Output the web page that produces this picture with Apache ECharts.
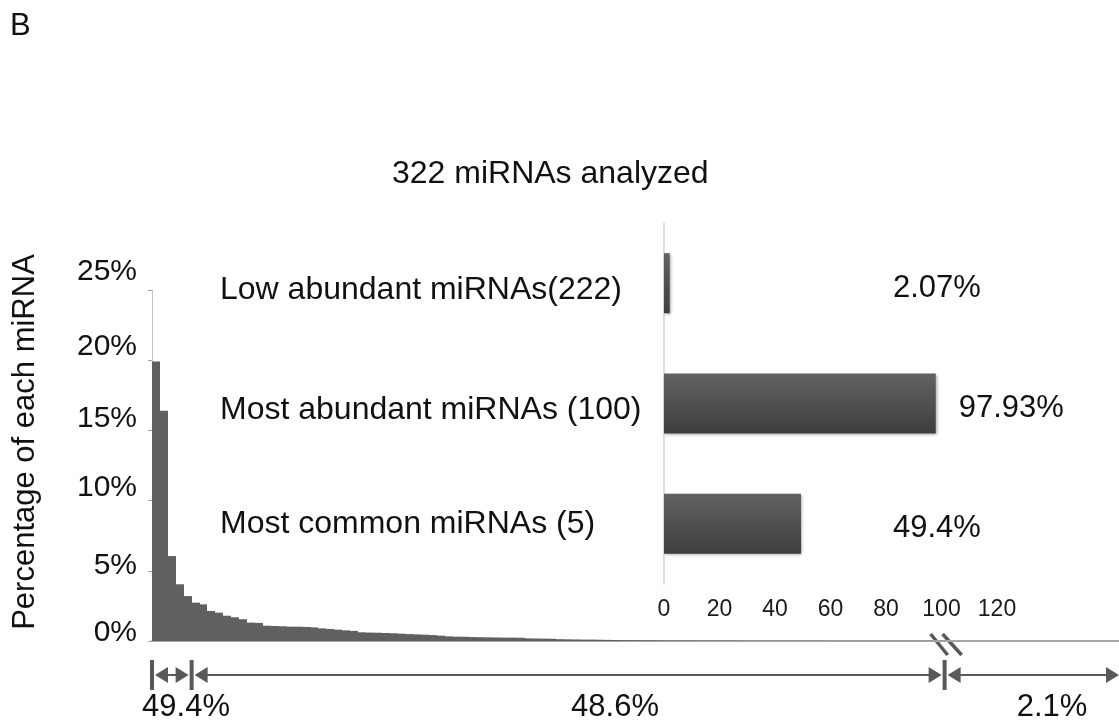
<!DOCTYPE html>
<html><head><meta charset="utf-8">
<script src="https://cdn.jsdelivr.net/npm/echarts@6/dist/echarts.min.js"></script>
<style>html,body{margin:0;padding:0;background:#fff}#c{width:1119px;height:721px}</style>
</head><body><div id="c"></div>
<script>
// ---------- data ----------
const panelLabel = 'B';
const titleText = '322 miRNAs analyzed';
const yAxisName = 'Percentage of each miRNA';
const yTicks = [0, 5, 10, 15, 20, 25];            // percent
// percentage of each of the 100 most abundant miRNAs (ranked)
const mirnaPercent = [
  19.9, 16.4, 6.05, 4.04, 3.2, 2.73, 2.61, 2.14, 2.02, 1.80,
  1.69, 1.55, 1.31, 1.29, 1.09, 1.07, 1.05, 1.02, 1.02, 1.00,
  0.97, 0.90, 0.86, 0.81, 0.76, 0.72, 0.62, 0.60, 0.59, 0.57,
  0.55, 0.52, 0.49, 0.47, 0.45, 0.42, 0.38, 0.33, 0.31, 0.30,
  0.28, 0.27, 0.26, 0.25, 0.24, 0.24, 0.23, 0.19, 0.18, 0.17,
  0.16, 0.13, 0.12, 0.11, 0.10, 0.10, 0.09, 0.08, 0.07, 0.06,
  0.06, 0.05, 0.05, 0.05, 0.04, 0.04, 0.04, 0.04, 0.03, 0.03,
  0.03, 0.03, 0.03, 0.03, 0.02, 0.02, 0.02, 0.02, 0.02, 0.02,
  0.02, 0.02, 0.02, 0.02, 0.02, 0.01, 0.01, 0.01, 0.01, 0.01,
  0.01, 0.01, 0.01, 0.01, 0.01, 0.01, 0.01, 0.01, 0.01, 0.01
];
const insetCategories = ['Low abundant miRNAs(222)', 'Most abundant miRNAs (100)', 'Most common miRNAs (5)'];
const insetValues = [2.07, 97.93, 49.4];
const insetTicks = [0, 20, 40, 60, 80, 100, 120];
const spanLabels = ['49.4%', '48.6%', '2.1%'];
const spanBounds = [0, 5, 100];   // rank boundaries of the groups

// ---------- layout ----------
const FONT = '"Liberation Sans", Arial, Helvetica, sans-serif';
const xMax = 122;                       // displayed rank range incl. compressed tail
const G1 = {left: 152, top: 290, right: 0, bottom: 80};
const G2 = {left: 664, top: 223, width: 333, height: 361};
const insetMax = insetTicks[insetTicks.length - 1];
const yShift = {0: 8, 5: 5, 10: 13, 15: 12, 20: 13, 25: 18};
const catShift = [7, 7, 0];

const chart = echarts.init(document.getElementById('c'), null, {renderer: 'canvas'});

const yRich = {};
yTicks.forEach(t => { yRich['t' + t] = {fontSize: 30, fontFamily: FONT, color: '#111', padding: [0, 0, 2 * yShift[t], 0]}; });
const catRich = {};
catShift.forEach((s, i) => { catRich['c' + i] = {fontSize: 32, fontFamily: FONT, color: '#111', padding: [2 * s, 0, 0, 0]}; });

const insetData = insetValues.map(v => {
  const end = v * G2.width / insetMax;
  const lx = Math.max(end + 23, 893 - G2.left);
  return {value: v, label: {position: [lx, 35]}};
});

chart.setOption({
  animation: false,
  backgroundColor: '#fff',
  title: {text: titleText, left: 387, top: 153,
    textStyle: {fontSize: 32, fontWeight: 'normal', fontFamily: FONT, color: '#111'}},
  grid: [
    {left: G1.left, top: G1.top, right: G1.right, bottom: G1.bottom, containLabel: false},
    {left: G2.left, top: G2.top, width: G2.width, height: G2.height, containLabel: false}
  ],
  xAxis: [
    {type: 'value', gridIndex: 0, min: 0, max: xMax,
      axisLine: {show: true, onZero: false, lineStyle: {color: '#a6a6a6', width: 2}},
      axisTick: {show: false}, axisLabel: {show: false}, splitLine: {show: false}},
    {type: 'value', gridIndex: 1, min: 0, max: insetMax, interval: 20,
      axisLine: {show: false}, axisTick: {show: false}, splitLine: {show: false},
      axisLabel: {fontSize: 23, fontFamily: FONT, color: '#1a1a1a', margin: 14}}
  ],
  yAxis: [
    {type: 'value', gridIndex: 0, min: 0, max: 25, interval: 5,
      axisLine: {show: true, lineStyle: {color: '#c4c4c4', width: 1}},
      axisTick: {show: true, length: 4, lineStyle: {color: '#a0a0a0'}},
      splitLine: {show: false},
      axisLabel: {margin: 15, formatter: v => '{t' + v + '|' + v + '%}', rich: yRich}},
    {type: 'category', gridIndex: 1, data: insetCategories, inverse: true,
      axisLine: {show: true, lineStyle: {color: '#c9d5ea', width: 1.5}},
      axisTick: {show: false},
      axisLabel: {align: 'left', margin: G2.left - 220,
        formatter: (v, i) => '{c' + i + '|' + v + '}', rich: catRich}}
  ],
  series: [
    {type: 'custom', xAxisIndex: 0, yAxisIndex: 0,
      data: mirnaPercent.map((v, i) => [i, v]),
      encode: {x: 0, y: 1},
      renderItem: (params, api) => {
        const i = api.value(0), v = api.value(1);
        const p0 = api.coord([i, v]), p1 = api.coord([i + 1, 0]);
        const x0 = Math.round(p0[0]), x1 = Math.round(p1[0]);
        return {type: 'rect',
          shape: {x: x0, y: p0[1], width: x1 - x0, height: p1[1] - p0[1]},
          style: {fill: '#606060', stroke: null}};
      }},
    {type: 'bar', xAxisIndex: 1, yAxisIndex: 1, data: insetData, barWidth: 60,
      itemStyle: {
        color: new echarts.graphic.LinearGradient(0, 0, 0, 1, [
          {offset: 0, color: '#626262'}, {offset: 1, color: '#3e3e3e'}]),
        shadowColor: 'rgba(0,0,0,0.35)', shadowBlur: 3, shadowOffsetX: 1, shadowOffsetY: 1},
      label: {show: true, formatter: p => p.value + '%', align: 'left', verticalAlign: 'middle',
        fontSize: 31, fontFamily: FONT, color: '#111'}}
  ]
});

// ---------- annotations (positions derived from the rank axis) ----------
const px = r => chart.convertToPixel({xAxisIndex: 0}, r);
const xs = spanBounds.map(px).concat([px(xMax)]);
const Y = 675, col = '#595959';
const g = [];
g.push({type: 'text', left: 10, top: 11, style: {text: panelLabel, fontSize: 31, fontFamily: FONT, fill: '#111'}});
g.push({type: 'text', x: 25, y: 442, rotation: Math.PI / 2,
  style: {text: yAxisName, fontSize: 31, fontFamily: FONT, fill: '#111', align: 'center', verticalAlign: 'middle'}});
function arrowSeg(a, b, startGap, endGap) {
  const s = a + startGap, e = b - endGap;
  g.push({type: 'line', shape: {x1: s + 10, y1: Y, x2: e - 10, y2: Y}, style: {stroke: col, lineWidth: 2}});
  g.push({type: 'polygon', shape: {points: [[s, Y], [s + 13, Y - 8], [s + 13, Y + 8]]}, style: {fill: col}});
  g.push({type: 'polygon', shape: {points: [[e, Y], [e - 13, Y - 8], [e - 13, Y + 8]]}, style: {fill: col}});
}
for (let k = 0; k < 3; k++) arrowSeg(xs[k], xs[k + 1], 3, k === 2 ? 0 : 3);
for (let k = 0; k < 3; k++) g.push({type: 'rect', shape: {x: xs[k] - 2, y: Y - 15, width: 4, height: 30}, style: {fill: col}});
const labelX = [186, 615, 1052];
spanLabels.forEach((t, k) => g.push({type: 'text', x: labelX[k], y: 707,
  style: {text: t, fontSize: 31, fontFamily: FONT, fill: '#111', align: 'center', verticalAlign: 'middle'}}));
// axis break marks
const b = xs[2];
g.push({type: 'rect', shape: {x: b - 12, y: 638, width: 20, height: 6}, style: {fill: '#fff'}});
g.push({type: 'line', shape: {x1: b - 14, y1: 634, x2: b + 3, y2: 655}, style: {stroke: col, lineWidth: 3.5}});
g.push({type: 'line', shape: {x1: b - 2, y1: 634, x2: b + 17, y2: 655}, style: {stroke: col, lineWidth: 3.5}});
chart.setOption({graphic: g});
</script></body></html>
